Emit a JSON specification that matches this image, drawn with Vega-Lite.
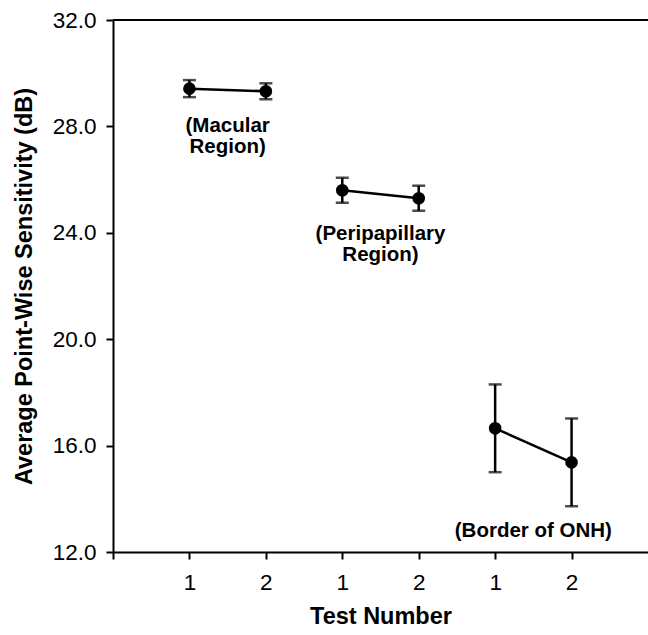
{
  "$schema": "https://vega.github.io/schema/vega-lite/v6.json",
  "width": 535,
  "height": 532,
  "autosize": {"type": "none"},
  "padding": {"left": 113, "top": 20, "right": 0, "bottom": 83},
  "config": {
    "view": {"stroke": null},
    "font": "Liberation Sans",
    "axis": {
      "grid": false,
      "domainColor": "black",
      "domainWidth": 2,
      "tickColor": "black",
      "tickWidth": 2,
      "tickSize": 7,
      "labelColor": "black",
      "labelFont": "Liberation Sans",
      "titleFont": "Liberation Sans",
      "titleFontWeight": "bold",
      "titleColor": "black"
    }
  },
  "datasets": {
    "pts": [
      {"region": "Macular", "pos": 1, "mean": 29.42, "lo": 29.1, "hi": 29.74},
      {"region": "Macular", "pos": 2, "mean": 29.32, "lo": 29.02, "hi": 29.62},
      {"region": "Peripapillary", "pos": 3, "mean": 25.6, "lo": 25.13, "hi": 26.07},
      {"region": "Peripapillary", "pos": 4, "mean": 25.3, "lo": 24.83, "hi": 25.77},
      {"region": "Border", "pos": 5, "mean": 16.65, "lo": 15.0, "hi": 18.3},
      {"region": "Border", "pos": 6, "mean": 15.37, "lo": 13.72, "hi": 17.02}
    ],
    "labels": [
      {"pos": 1.5, "mean": 28.0, "text": "(Macular\nRegion)"},
      {"pos": 3.5, "mean": 23.94, "text": "(Peripapillary\nRegion)"},
      {"pos": 5.5, "mean": 12.78, "text": "(Border of ONH)"}
    ],
    "top": [{"mean": 32}]
  },
  "encoding": {
    "x": {
      "field": "pos",
      "type": "quantitative",
      "scale": {"domain": [0, 7], "nice": false, "zero": false},
      "axis": {
        "title": "Test Number",
        "values": [0, 1, 2, 3, 4, 5, 6],
        "labelExpr": "datum.value == 0 ? '' : (datum.value % 2 == 1 ? '1' : '2')",
        "labelFontSize": 22.5,
        "labelPadding": 12,
        "titleFontSize": 23.5,
        "titlePadding": 11
      }
    }
  },
  "layer": [
    {
      "data": {"name": "top"},
      "mark": {"type": "rule", "color": "black", "strokeWidth": 2},
      "encoding": {
        "x": null,
        "y": {
          "field": "mean",
          "type": "quantitative",
          "title": "Average Point-Wise Sensitivity (dB)",
          "scale": {"domain": [12, 32], "nice": false, "zero": false},
          "axis": {"values": [12, 16, 20, 24, 28, 32], "format": ".1f", "labelFontSize": 22.5, "labelPadding": 10, "titleFontSize": 23.5, "titlePadding": 16}
        }
      }
    },
    {
      "data": {"name": "pts"},
      "mark": {"type": "rule", "color": "black", "strokeWidth": 2.5},
      "encoding": {
        "y": {"field": "lo", "type": "quantitative", "title": "Average Point-Wise Sensitivity (dB)"},
        "y2": {"field": "hi"}
      }
    },
    {
      "data": {"name": "pts"},
      "mark": {"type": "tick", "color": "black", "orient": "horizontal", "size": 13, "thickness": 2.5},
      "encoding": {
        "y": {"field": "lo", "type": "quantitative", "title": "Average Point-Wise Sensitivity (dB)"}
      }
    },
    {
      "data": {"name": "pts"},
      "mark": {"type": "tick", "color": "black", "orient": "horizontal", "size": 13, "thickness": 2.5},
      "encoding": {
        "y": {"field": "hi", "type": "quantitative", "title": "Average Point-Wise Sensitivity (dB)"}
      }
    },
    {
      "data": {"name": "pts"},
      "mark": {"type": "line", "color": "black", "strokeWidth": 2.5},
      "encoding": {
        "y": {"field": "mean", "type": "quantitative", "title": "Average Point-Wise Sensitivity (dB)"},
        "detail": {"field": "region"}
      }
    },
    {
      "data": {"name": "pts"},
      "mark": {"type": "circle", "color": "black", "opacity": 1, "size": 160},
      "encoding": {
        "y": {"field": "mean", "type": "quantitative", "title": "Average Point-Wise Sensitivity (dB)"}
      }
    },
    {
      "data": {"name": "labels"},
      "mark": {"type": "text", "color": "black", "font": "Liberation Sans", "fontSize": 20.5, "fontWeight": "bold", "lineBreak": "\n", "lineHeight": 21, "align": "center", "baseline": "middle"},
      "encoding": {
        "y": {"field": "mean", "type": "quantitative", "title": "Average Point-Wise Sensitivity (dB)"},
        "text": {"field": "text"}
      }
    }
  ]
}
